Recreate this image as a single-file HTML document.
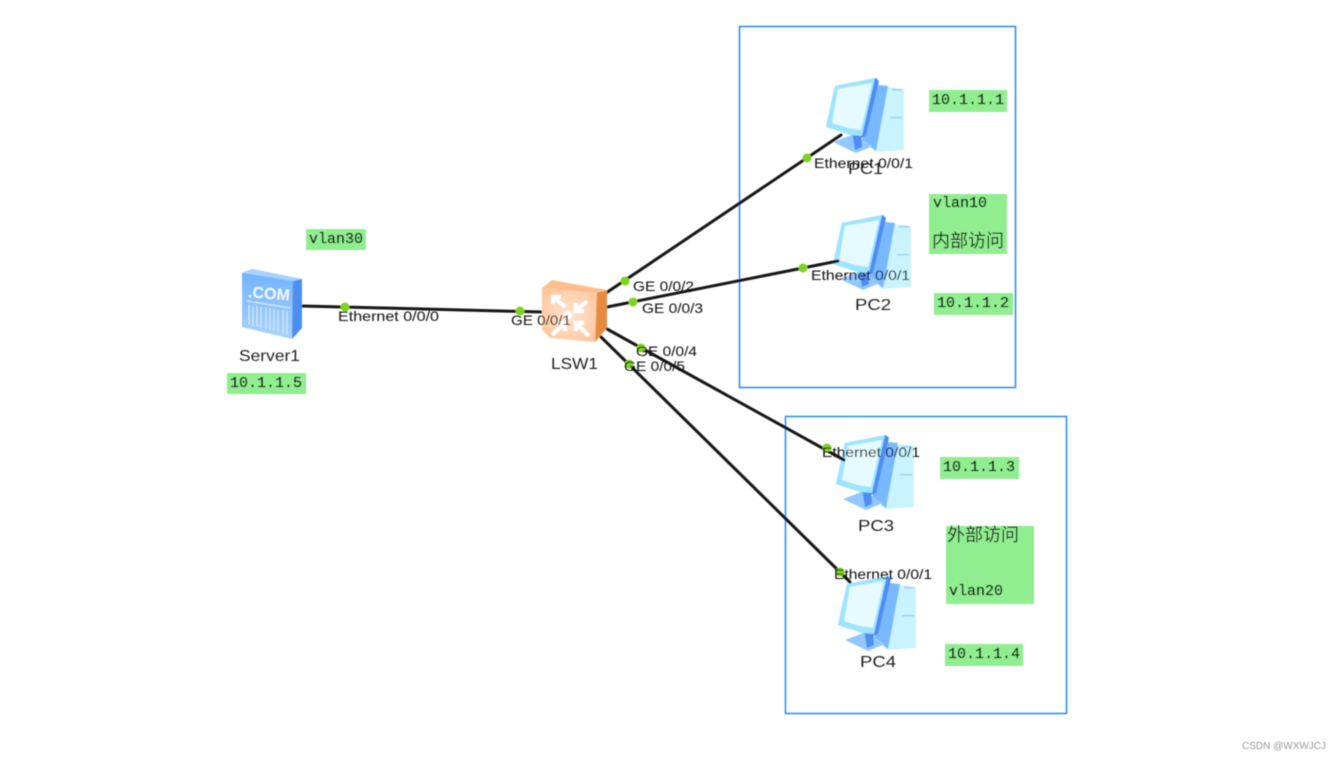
<!DOCTYPE html>
<html>
<head>
<meta charset="utf-8">
<style>
html,body{margin:0;padding:0;background:#fff;width:1343px;height:760px;overflow:hidden}
svg{display:block}
.l{font:14px "Liberation Sans","Noto Sans CJK SC",sans-serif;fill:#111}
.m{font:15px "Liberation Mono",monospace;fill:#000;stroke:#000;stroke-width:.25}
.c{font:18px "Liberation Sans","Noto Sans CJK SC",sans-serif;fill:#111}
.n{font:16px "Liberation Sans",sans-serif;fill:#222}
.w{font:10px "Liberation Sans",sans-serif;fill:#999}
</style>
</head>
<body>
<svg width="1343" height="760" viewBox="0 0 1343 760" xmlns="http://www.w3.org/2000/svg">
<defs>
<filter id="b" x="-2%" y="-2%" width="104%" height="104%"><feGaussianBlur stdDeviation="0.4"/></filter>
<linearGradient id="sv" x1="0" y1="0" x2="0" y2="1"><stop offset="0" stop-color="#6fb2ff"/><stop offset="1" stop-color="#a9d3ff"/></linearGradient>
<radialGradient id="sw" cx=".5" cy=".5" r=".7"><stop offset="0" stop-color="#ffe6d2"/><stop offset="1" stop-color="#ffc295"/></radialGradient>
<symbol id="pc" width="80" height="78" viewBox="0 0 80 78" overflow="visible">
<polygon points="52,8 78,11 78,72 49,74 38,62" fill="#c8f3ff"/>
<polygon points="52,7 62,8 50,73 36,62" fill="#78b8ff"/>
<polygon points="7,64 28,56 47,68 30,75" fill="#92c8ff"/>
<polygon points="26,54 35,54 36,69 29,72" fill="#4f8df5"/>
<polygon points="0,49 9,8 50,0 53,3 40,58 35,60" fill="#4f8df5"/>
<polygon points="0,49 9,8 49,0 36,58 24,57" fill="#9fe4ff"/>
<polygon points="6,45 12,11 46,5 35,52 22,50" fill="#e6fbff"/>
<rect x="66" y="11" width="10" height="1.5" fill="#9ad0ff"/>
<rect x="64" y="39" width="12" height="1.5" fill="#9ad0ff"/>
</symbol>
</defs>

<g filter="url(#b)">
<rect x="739.5" y="26.5" width="276" height="361" fill="none" stroke="#2f90f5" stroke-width="1.6"/>
<rect x="785.5" y="416.5" width="281" height="297" fill="none" stroke="#2f90f5" stroke-width="1.6"/>

<g fill="#90ee90">
<rect x="929" y="90" width="78" height="22"/>
<rect x="929" y="194" width="78" height="60"/>
<rect x="934" y="293" width="79" height="22"/>
<rect x="306" y="229" width="60" height="21"/>
<rect x="227" y="373" width="79" height="21"/>
<rect x="940" y="457" width="79" height="22"/>
<rect x="946" y="526" width="88" height="78"/>
<rect x="945" y="644" width="78" height="22"/>
</g>

<use href="#pc" x="826" y="78"/>
<use href="#pc" x="833" y="215"/>
<use href="#pc" x="836" y="435"/>
<use href="#pc" x="838" y="576"/>

<g stroke="#161616" stroke-width="3" fill="none" stroke-linecap="round">
<line x1="302" y1="306" x2="543" y2="312"/>
<line x1="606" y1="293" x2="841" y2="135"/>
<line x1="607" y1="307" x2="838" y2="261"/>
<line x1="607" y1="329" x2="844" y2="460"/>
<line x1="601" y1="337" x2="850" y2="582"/>
</g>

<!-- Server -->
<polygon points="242,273 252,269 302,279 302,328 292,339 242,327" fill="url(#sv)"/>
<polygon points="293,281 302,279 302,328 292,339" fill="#4d8ff0"/>
<polygon points="242,273 252,269 302,279 293,281" fill="#a8d2ff"/>
<text x="248" y="299" font-family="Liberation Sans,sans-serif" font-size="16" font-weight="bold" fill="#eef8ff" transform="rotate(5 270 295)">.COM</text>
<g stroke="#d5e9ff" stroke-width="1.2">
<line x1="247" y1="301" x2="290" y2="308"/>
<line x1="249" y1="305" x2="249" y2="325"/><line x1="253" y1="306" x2="253" y2="326"/><line x1="257" y1="306" x2="257" y2="327"/><line x1="261" y1="307" x2="261" y2="328"/><line x1="266" y1="308" x2="266" y2="329"/><line x1="270" y1="308" x2="270" y2="330"/><line x1="274" y1="309" x2="274" y2="331"/><line x1="278" y1="310" x2="278" y2="332"/><line x1="283" y1="310" x2="283" y2="333"/><line x1="287" y1="311" x2="287" y2="334"/>
</g>

<!-- Switch -->
<polygon points="542,288 552,280 607,290 597,293" fill="#ffbd8a"/>
<polygon points="542,288 597,293 595,342 550,338 542,330" fill="url(#sw)"/>
<polygon points="597,293 607,290 607,328 595,342" fill="#e88a3c"/>
<g fill="none" stroke="#fff" stroke-width="4">
<path d="M552 296 L565 307 M553 304 V297 H561"/>
<path d="M587 301 L576 311 M576 303 V311 H584"/>
<path d="M552 335 L564 324 M556 323 H565 V331"/>
<path d="M589 336 L576 323 M576 331 V323 H584"/>
</g>
<circle cx="568" cy="315" r="4" fill="#fff"/>

<g fill="#7ed321">
<circle cx="345" cy="307" r="4.5"/>
<circle cx="520" cy="311" r="4.5"/>
<circle cx="625" cy="281" r="4.5"/>
<circle cx="633" cy="302" r="4.5"/>
<circle cx="641" cy="348" r="4.5"/>
<circle cx="629" cy="364" r="4.5"/>
<circle cx="807" cy="158" r="4.5"/>
<circle cx="803" cy="268" r="4.5"/>
<circle cx="827" cy="448" r="4.5"/>
<circle cx="840" cy="572" r="4.5"/>
</g>

<g>
<text class="n" x="239" y="361" textLength="61" lengthAdjust="spacingAndGlyphs">Server1</text>
<text class="n" x="551" y="369" textLength="47" lengthAdjust="spacingAndGlyphs">LSW1</text>
<text class="n" x="848" y="174" textLength="35" lengthAdjust="spacingAndGlyphs">PC1</text>
<text class="n" x="855" y="310" textLength="36" lengthAdjust="spacingAndGlyphs">PC2</text>
<text class="n" x="858" y="531" textLength="36" lengthAdjust="spacingAndGlyphs">PC3</text>
<text class="n" x="860" y="667" textLength="36" lengthAdjust="spacingAndGlyphs">PC4</text>
</g>

<g>
<text class="l" x="338" y="321" textLength="101" lengthAdjust="spacingAndGlyphs">Ethernet 0/0/0</text>
<text class="l" x="511" y="325" textLength="60" lengthAdjust="spacingAndGlyphs">GE 0/0/1</text>
<text class="l" x="633" y="291" textLength="61" lengthAdjust="spacingAndGlyphs">GE 0/0/2</text>
<text class="l" x="642" y="313" textLength="61" lengthAdjust="spacingAndGlyphs">GE 0/0/3</text>
<text class="l" x="636" y="356" textLength="61" lengthAdjust="spacingAndGlyphs">GE 0/0/4</text>
<text class="l" x="624" y="371" textLength="61" lengthAdjust="spacingAndGlyphs">GE 0/0/5</text>
<text class="l" x="814" y="168" textLength="99" lengthAdjust="spacingAndGlyphs">Ethernet 0/0/1</text>
<text class="l" x="811" y="280" textLength="99" lengthAdjust="spacingAndGlyphs">Ethernet 0/0/1</text>
<text class="l" x="822" y="457" textLength="98" lengthAdjust="spacingAndGlyphs">Ethernet 0/0/1</text>
<text class="l" x="834" y="579" textLength="98" lengthAdjust="spacingAndGlyphs">Ethernet 0/0/1</text>
</g>

<g>
<text class="m" x="932" y="104">10.1.1.1</text>
<text class="m" x="933" y="207">vlan10</text>
<text class="c" x="932" y="247">内部访问</text>
<text class="m" x="937" y="307">10.1.1.2</text>
<text class="m" x="309" y="243">vlan30</text>
<text class="m" x="230" y="387">10.1.1.5</text>
<text class="m" x="943" y="471">10.1.1.3</text>
<text class="c" x="947" y="541">外部访问</text>
<text class="m" x="949" y="595">vlan20</text>
<text class="m" x="948" y="658">10.1.1.4</text>
</g>

<text class="w" x="1242" y="749">CSDN @WXWJCJ</text>
</g>
</svg>
</body>
</html>
